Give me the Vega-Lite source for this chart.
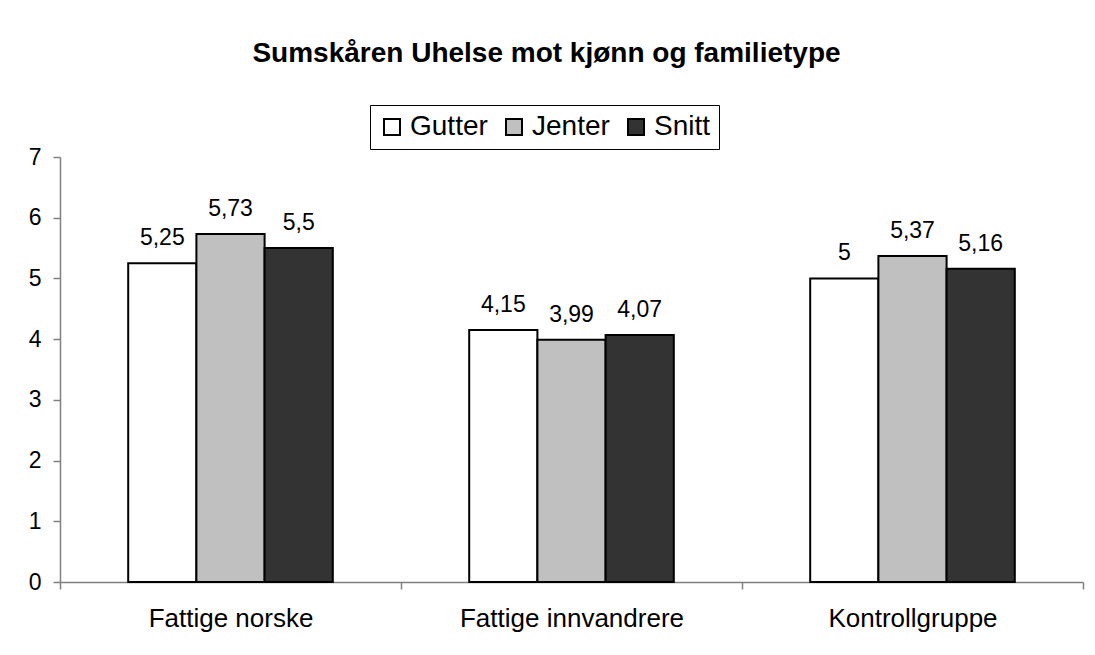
{
  "$schema": "https://vega.github.io/schema/vega-lite/v6.json",
  "width": 1023,
  "height": 425,
  "autosize": {"type": "none"},
  "padding": {"left": 60, "top": 157, "right": 12, "bottom": 73},
  "background": "white",
  "title": {
    "text": "Sumskåren Uhelse mot kjønn og familietype",
    "font": "Liberation Sans",
    "fontSize": 28,
    "fontWeight": "bold",
    "color": "black",
    "anchor": "middle",
    "dx": -25,
    "offset": 37
  },
  "data": {
    "values": [
      {"gruppe": "Fattige norske", "kjonn": "Gutter", "verdi": 5.25},
      {"gruppe": "Fattige norske", "kjonn": "Jenter", "verdi": 5.73},
      {"gruppe": "Fattige norske", "kjonn": "Snitt", "verdi": 5.5},
      {"gruppe": "Fattige innvandrere", "kjonn": "Gutter", "verdi": 4.15},
      {"gruppe": "Fattige innvandrere", "kjonn": "Jenter", "verdi": 3.99},
      {"gruppe": "Fattige innvandrere", "kjonn": "Snitt", "verdi": 4.07},
      {"gruppe": "Kontrollgruppe", "kjonn": "Gutter", "verdi": 5.0},
      {"gruppe": "Kontrollgruppe", "kjonn": "Jenter", "verdi": 5.37},
      {"gruppe": "Kontrollgruppe", "kjonn": "Snitt", "verdi": 5.16}
    ]
  },
  "encoding": {
    "x": {
      "field": "gruppe",
      "type": "nominal",
      "sort": ["Fattige norske", "Fattige innvandrere", "Kontrollgruppe"],
      "scale": {"paddingInner": 0, "paddingOuter": 0},
      "axis": {
        "title": null,
        "labelAngle": 0,
        "labelFont": "Liberation Sans",
        "labelFontSize": 26,
        "labelColor": "black",
        "labelPadding": 16,
        "labelLimit": 400,
        "domainColor": "#808080",
        "domainWidth": 1.5,
        "tickColor": "#808080",
        "tickWidth": 1.5,
        "tickSize": 7,
        "tickBand": "extent",
        "grid": false
      }
    },
    "xOffset": {
      "field": "kjonn",
      "type": "nominal",
      "sort": ["Gutter", "Jenter", "Snitt"],
      "scale": {"paddingInner": 0, "paddingOuter": 1}
    },
    "y": {
      "field": "verdi",
      "type": "quantitative",
      "scale": {"domain": [0, 7], "nice": false},
      "axis": {
        "title": null,
        "values": [0, 1, 2, 3, 4, 5, 6, 7],
        "labelFont": "Liberation Sans",
        "labelFontSize": 23,
        "labelColor": "black",
        "labelPadding": 12,
        "domainColor": "#808080",
        "domainWidth": 1.5,
        "tickColor": "#808080",
        "tickWidth": 1.5,
        "tickSize": 7,
        "grid": false
      }
    }
  },
  "layer": [
    {
      "mark": {"type": "bar", "stroke": "black", "strokeWidth": 2},
      "encoding": {
        "fill": {
          "field": "kjonn",
          "type": "nominal",
          "sort": ["Gutter", "Jenter", "Snitt"],
          "scale": {"domain": ["Gutter", "Jenter", "Snitt"], "range": ["#ffffff", "#c0c0c0", "#333333"]},
          "legend": {
            "title": null,
            "orient": "none",
            "direction": "horizontal",
            "legendX": 310,
            "legendY": -52,
            "strokeColor": "black",
            "padding": 8,
            "symbolType": "square",
            "symbolSize": 256,
            "symbolStrokeColor": "black",
            "symbolStrokeWidth": 2,
            "symbolOpacity": 1,
            "labelFont": "Liberation Sans",
            "labelFontSize": 28,
            "labelColor": "black",
            "labelOffset": 4,
            "columnPadding": 12
          }
        }
      }
    },
    {
      "mark": {"type": "text", "baseline": "alphabetic", "dy": -18, "font": "Liberation Sans", "fontSize": 23, "color": "black"},
      "encoding": {
        "text": {"field": "verdi", "type": "quantitative", "format": ".3~g"}
      }
    }
  ],
  "config": {
    "view": {"stroke": null},
    "locale": {
      "number": {"decimal": ",", "thousands": " ", "grouping": [3], "currency": ["", " kr"]}
    }
  }
}
